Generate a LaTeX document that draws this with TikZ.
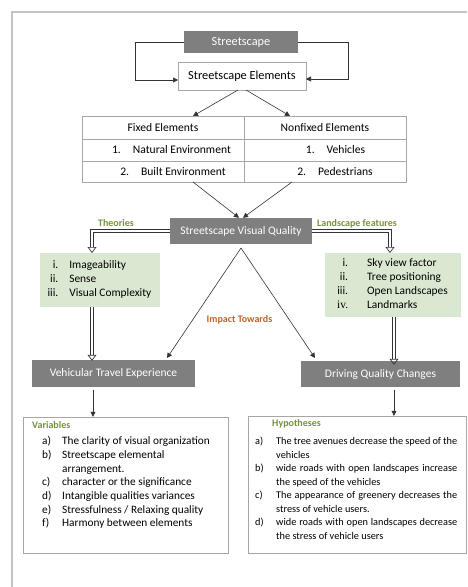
\documentclass[tikz,border=0pt]{standalone}
\usepackage{fontspec}
\setmainfont{Carlito}
\newfontfamily\romfont{Liberation Serif}
\usetikzlibrary{arrows.meta}
\definecolor{boxgray}{HTML}{7F7F7F}
\definecolor{linegray}{HTML}{A6A6A6}
\definecolor{framegray}{HTML}{C4C4C4}
\definecolor{leafgreen}{HTML}{DAE8D1}
\definecolor{labgreen}{HTML}{76923C}
\definecolor{labbrown}{HTML}{C0622A}
\definecolor{arrowgray}{HTML}{333333}
\newcommand{\fullline}[1]{\makebox[181pt][s]{#1}}

\begin{document}
\begin{tikzpicture}[x=1pt,y=-1pt,
  darkbox/.style={fill=boxgray, text=white, font=\fontsize{11.5}{13}\selectfont, inner sep=0pt},
  whitebox/.style={draw=linegray, fill=white, inner sep=0pt},
  greenbox/.style={fill=leafgreen, inner sep=0pt, font=\fontsize{11.4}{14}\selectfont},
  celltext/.style={font=\fontsize{11.6}{13}\selectfont, inner sep=0pt},
  listtext/.style={inner sep=0pt, anchor=north west},
  tag/.style={font=\fontsize{10}{12}\selectfont\bfseries, inner sep=0pt},
  arrow/.style={draw=arrowgray, line width=0.6pt, -{Triangle[length=5pt,width=5pt]}},
  hollow/.style={draw=arrowgray, line width=0.7pt, double=white, double distance=2.4pt, -{Triangle[open,length=6pt,width=9pt]}}
 ]
 \useasboundingbox (0,0) rectangle (467,587);

 %Frame
 \draw[framegray, line width=1.3pt] (12,587) -- (12,12) -- (467,12);

 %Top boxes
 \node (street) [darkbox, minimum width=114pt, minimum height=22pt, font=\fontsize{12.3}{14}\selectfont] at (241,42) {Streetscape};
 \node (elem) [whitebox, minimum width=128pt, minimum height=28pt, font=\fontsize{12.3}{14}\selectfont] at (242,76) {Streetscape Elements};

 \coordinate (elemL) at (178,80);
 \coordinate (elemR) at (306,79);
 \draw[arrow] (street.west) -- (135,42) |- (elemL);
 \draw[arrow] (street.east) -- (348,42) |- (elemR);

 %Table
 \node (table) [whitebox, minimum width=324pt, minimum height=66pt] at (244,149) {};
 \draw[linegray] (table.north) -- (table.south);
 \draw[linegray] (82,139) -- (406,139);
 \draw[linegray] (82,161) -- (406,161);

 \node (fixed) [celltext] at (163,127.5) {Fixed Elements};
 \node (natural) [celltext] at (171.5,150) {1.\hspace{12pt}Natural Environment};
 \node (built) [celltext] at (173,171.5) {2.\hspace{12pt}Built Environment};
 \node (nonfixed) [celltext] at (325,127.5) {Nonfixed Elements};
 \node (vehicles) [celltext] at (335.5,150) {1.\hspace{12pt}Vehicles};
 \node (pedestrians) [celltext] at (335,171.5) {2.\hspace{12pt}Pedestrians};

 \coordinate (elemoutL) at (238,90);
 \coordinate (elemoutR) at (246,90);
 \coordinate (tabinL) at (193,116);
 \coordinate (tabinR) at (290,116);
 \draw[arrow] (elemoutL) -- (tabinL);
 \draw[arrow] (elemoutR) -- (tabinR);

 %Visual quality
 \node (svq) [darkbox, minimum width=142pt, minimum height=26pt] at (241,231) {Streetscape Visual Quality};
 \coordinate (taboutL) at (193,182);
 \coordinate (taboutR) at (292,182);
 \draw[arrow] (taboutL) -- ([xshift=-2pt]svq.north);
 \draw[arrow] (taboutR) -- ([xshift=2pt]svq.north);

 \node (theories) [tag, text=labgreen] at (116,223) {Theories};
 \node (landfeat) [tag, text=labgreen] at (357,224) {Landscape features};

 %Green boxes
 \node (theo) [greenbox, minimum width=120pt, minimum height=54pt] at (99.5,280) {%
   \begin{tabular}{@{}r@{\hspace{11pt}}l@{}}
   i. & Imageability\\
   ii. & Sense\\
   iii. & Visual Complexity
   \end{tabular}};
 \node (land) [greenbox, minimum width=136pt, minimum height=64pt] at (392.5,285) {%
   \begin{tabular}{@{}r@{\hspace{19pt}}l@{}}
   i. & Sky view factor\\
   ii. & Tree positioning\\
   iii. & Open Landscapes\\
   {\romfont iv.} & Landmarks
   \end{tabular}};

 \coordinate (theoin) at (92,253);
 \coordinate (landin) at (390,253);
 \draw[hollow] (svq.west) -| (theoin);
 \draw[hollow] (svq.east) -| (landin);

 %Outcome boxes
 \node (vte) [darkbox, minimum width=163pt, minimum height=27pt] at (113.5,373.5) {Vehicular Travel Experience};
 \node (dqc) [darkbox, minimum width=159pt, minimum height=26pt] at (380.5,374) {Driving Quality Changes};

 \coordinate (theoout) at (92,307);
 \coordinate (landout) at (394,317);
 \draw[hollow] (theoout) -- ([yshift=-1pt]theoout |- vte.north);
 \draw[hollow] (landout) -- ([yshift=-4pt]landout |- dqc.north);

 \coordinate (apex) at (241,248);
 \coordinate (vtein) at (167,358);
 \coordinate (dqcin) at (315,358);
 \draw[arrow] (apex) -- (vtein);
 \draw[arrow] (apex) -- (dqcin);
 \node (impact) [tag, text=labbrown] at (239.5,320) {Impact Towards};

 %Variables
 \node (varbox) [whitebox, minimum width=205pt, minimum height=136pt] at (125.5,485) {};
 \coordinate (vteout) at (93,390);
 \draw[arrow] (vteout) -- (vteout |- varbox.north);
 \node (vartitle) [tag, text=labgreen, anchor=west] at (32,425) {Variables};
 \node (varlist) [listtext, font=\fontsize{11.3}{13.7}\selectfont] at (42,435) {%
   \begin{tabular}{@{}p{20pt}@{}l@{}}
   a) & The clarity of visual organization\\
   b) & Streetscape elemental\\
      & arrangement.\\
   c) & character or the significance\\
   d) & Intangible qualities variances\\
   e) & Stressfulness / Relaxing quality\\
   f) & Harmony between elements
   \end{tabular}};

 %Hypotheses
 \node (hypbox) [whitebox, minimum width=218pt, minimum height=137pt] at (357,484.5) {};
 \coordinate (dqcout) at (394,390);
 \draw[arrow] (dqcout) -- (dqcout |- hypbox.north);
 \node (hyptitle) [tag, text=labgreen, anchor=west] at (272,424) {Hypotheses};
 \node (hyplist) [listtext, font=\fontsize{10.3}{13.5}\selectfont] at (255,435) {%
   \begin{tabular}{@{}p{21pt}@{}l@{}}
   a) & \fullline{The tree avenues decrease the speed of the}\\
      & vehicles\\
   b) & \fullline{wide roads with open landscapes increase}\\
      & the speed of the vehicles\\
   c) & \fullline{The appearance of greenery decreases the}\\
      & stress of vehicle users.\\
   d) & \fullline{wide roads with open landscapes decrease}\\
      & the stress of vehicle users
   \end{tabular}};

\end{tikzpicture}
\end{document}
